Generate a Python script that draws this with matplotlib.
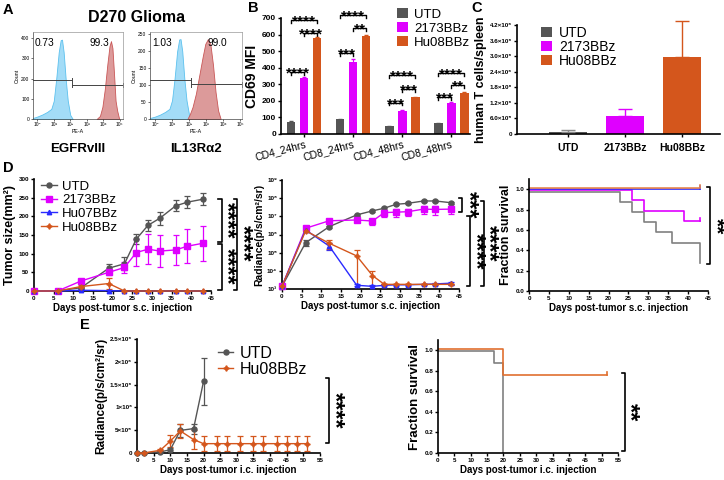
import numpy as np
import matplotlib
matplotlib.use('Agg')
import matplotlib.pyplot as plt

plt.rcParams['font.family'] = ['Liberation Sans', 'DejaVu Sans']

W, H = 724, 480

GREY = '#555555'
MAG = '#df00ff'
BLUE = '#2a2aff'
ORANGE = '#d4561c'

# ---------------- A: flow histograms (x in decades of PE-A) ----------------
flow_ticks = ['10⁰', '10¹', '10²', '10³', '10⁴', '10⁵']
egfr_ctrl_x = [-0.26, 0.0, 0.3, 0.6, 0.85, 1.0, 1.15, 1.3, 1.42, 1.5, 1.6, 1.72, 1.85, 2.0, 2.15]
egfr_ctrl_y = [5, 12, 22, 35, 50, 90, 200, 330, 390, 392, 330, 200, 90, 20, 0]
egfr_car_x = [3.6, 3.8, 3.95, 4.1, 4.25, 4.38, 4.47, 4.56, 4.65, 4.75, 4.85, 4.97]
egfr_car_y = [0, 15, 60, 150, 270, 360, 385, 350, 230, 90, 40, 0]
il13_ctrl_x = [-0.29, 0.0, 0.3, 0.6, 0.85, 1.0, 1.15, 1.3, 1.42, 1.5, 1.6, 1.72, 1.85, 2.0, 2.15]
il13_ctrl_y = [3, 7, 13, 21, 30, 55, 120, 200, 235, 236, 200, 120, 55, 12, 0]
il13_car_x = [1.9, 2.05, 2.2, 2.4, 2.6, 2.8, 2.95, 3.1, 3.25, 3.4, 3.55, 3.7, 3.85]
il13_car_y = [0, 15, 35, 75, 130, 185, 222, 236, 220, 160, 80, 25, 0]
egfr_pct = ['0.73', '99.3']
il13_pct = ['1.03', '99.0']

# ---------------- B: CD69 MFI ----------------
groups = ['CD4_24hrs', 'CD8_24hrs', 'CD4_48hrs', 'CD8_48hrs']
mfi_utd = [73, 89, 47, 64]
mfi_utd_err = [3, 3, 3, 3]
mfi_2173 = [338, 435, 141, 185]
mfi_2173_err = [5, 15, 5, 6]
mfi_hu08 = [578, 592, 221, 250]
mfi_hu08_err = [5, 8, 4, 5]
# (group, bar i, bar j, bracket height, stars)
mfi_sig = [(0, 0, 1, 376, '****'), (0, 1, 2, 609, '****'), (0, 0, 2, 686, '****'),
           (1, 0, 1, 488, '***'), (1, 1, 2, 640, '**'), (1, 0, 2, 718, '****'),
           (2, 0, 1, 190, '***'), (2, 1, 2, 270, '***'), (2, 0, 2, 356, '****'),
           (3, 0, 1, 225, '***'), (3, 1, 2, 295, '**'), (3, 0, 2, 370, '****')]

# ---------------- C: human T cells / spleen ----------------
c_groups = ['UTD', '2173BBz', 'Hu08BBz']
spleen = [9e4, 7.1e5, 2.95e6]
spleen_err = [6e4, 2.4e5, 1.4e6]
c_ticks = ['0', '6.0×10⁵', '1.2×10⁶', '1.8×10⁶', '2.4×10⁶', '3.0×10⁶', '3.6×10⁶', '4.2×10⁶']

# ---------------- D: s.c. model ----------------
days_sc = [0, 6, 12, 19, 23, 26, 29, 32, 36, 39, 43]
size_utd = [0, 0, 9, 61, 73, 139, 176, 195, 228, 238, 246]
size_utd_err = [0, 0, 3, 10, 18, 14, 14, 17, 15, 16, 16]
size_2173 = [0, 0, 27, 50, 63, 103, 112, 107, 110, 120, 128]
size_2173_err = [0, 0, 5, 8, 15, 37, 40, 42, 40, 45, 47]
size_hu07 = [0, 0, 2, 1, 0, 0, 0, 0, 0, 0, 0]
size_hu07_err = [0] * 11
size_hu08 = [0, 0, 12, 20, 0, 0, 0, 0, 0, 0, 0]
size_hu08_err = [0, 0, 4, 14, 0, 0, 0, 0, 0, 0, 0]

rad_utd = [1.4e3, 3.5e5, 2.7e6, 1.2e7, 2.0e7, 2.8e7, 4.6e7, 5.2e7, 7.0e7, 7.0e7, 5.6e7]
rad_utd_err = [0, 1.2e5, 3e5, 2e6, 3e6, 5e6, 6e6, 6e6, 8e6, 8e6, 6e6]
rad_2173 = [1.4e3, 2.2e6, 5.7e6, 6.3e6, 5.5e6, 1.6e7, 1.7e7, 1.8e7, 2.5e7, 2.4e7, 2.5e7]
rad_2173_err = [0, 5e5, 1.5e6, 1.5e6, 2e6, 7e6, 8e6, 8e6, 1.1e7, 1.2e7, 1.2e7]
rad_hu07 = [1.4e3, 1.8e6, 2.3e5, 1.6e3, 1.4e3, 1.6e3, 1.7e3, 1.7e3, 1.8e3, 1.9e3, 2.1e3]
rad_hu07_err = [0, 2e5, 9e4, 2e2, 2e2, 2e2, 2e2, 2e2, 2e2, 2e2, 4e2]
rad_hu08 = [1.4e3, 1.6e6, 3.3e5, 6.6e4, 5.5e3, 1.8e3, 1.8e3, 1.8e3, 1.8e3, 1.8e3, 1.8e3]
rad_hu08_err = [0, 2e5, 1.8e5, 7.5e4, 4e3, 2e2, 2e2, 2e2, 2e2, 2e2, 2e2]
rad_ticks = ['10³', '10⁴', '10⁵', '10⁶', '10⁷', '10⁸', '10⁹']

surv_utd_t = [0, 23, 26, 29, 32, 36, 43]
surv_utd = [0.975, 0.875, 0.775, 0.675, 0.575, 0.475, 0.275]
surv_2173_t = [0, 26, 29, 39, 43]
surv_2173 = [0.99, 0.89, 0.79, 0.69, 0.69]
surv_hu07_t = [0, 43]
surv_hu07 = [1.0, 1.0]
surv_hu08_t = [0, 43]
surv_hu08 = [1.015, 1.015]

# ---------------- E: i.c. model ----------------
days_ic_utd = [0, 2, 7, 10, 13, 17, 20]
ic_utd = [0, 0, 2.5e4, 7e4, 4.95e5, 5.35e5, 1.57e6]
ic_utd_err = [0, 0, 1e4, 4e4, 1.5e5, 1.1e5, 5.2e5]
days_ic_hu08 = [0, 2, 7, 10, 13, 17, 20, 24, 27, 31, 35, 38, 42, 45, 48, 51]
ic_hu08 = [0, 0, 6e4, 2.6e5, 4.85e5, 2.95e5, 2.05e5, 2.05e5, 2.05e5, 2.05e5,
           2.05e5, 2.05e5, 2.05e5, 2.05e5, 2.05e5, 2.05e5]
ic_hu08_err = [0, 0, 2e4, 1.3e5, 1.6e5, 2e5, 1.7e5, 1.7e5, 1.7e5, 1.7e5,
               1.7e5, 1.7e5, 1.7e5, 1.7e5, 1.7e5, 1.7e5]
ic_ticks = ['0', '5×10⁵', '1×10⁶', '1.5×10⁶', '2×10⁶', '2.5×10⁶']
surv_ic_utd_t = [0, 17, 20]
surv_ic_utd = [0.99, 0.875, 0.0]
surv_ic_hu08_t = [0, 20, 51.5]
surv_ic_hu08 = [1.01, 0.76, 0.76]


fig = plt.figure(figsize=(W / 100, H / 100), dpi=100)


def px_axes(x0, y0, x1, y1):
    return fig.add_axes([x0 / W, 1 - y1 / H, (x1 - x0) / W, (y1 - y0) / H])


def prism(ax, fs=4.5):
    for s in ['top', 'right']:
        ax.spines[s].set_visible(False)
    for s in ['left', 'bottom']:
        ax.spines[s].set_linewidth(1.2)
    ax.tick_params(width=1, length=2.5, labelsize=fs, pad=1)
    for lab in ax.get_xticklabels() + ax.get_yticklabels():
        lab.set_fontweight('bold')


def series(ax, x, y, err, color, marker, ms, label, clip=False):
    ax.errorbar(x, y, yerr=err, fmt='none', ecolor=color, elinewidth=0.9,
                capsize=2, capthick=0.9, zorder=2, clip_on=clip)
    ax.plot(x, y, color=color, marker=marker, ms=ms, lw=1, label=label, zorder=3, clip_on=False)


def vbracket(ax, x, y0, y1, arm, stars, sx, sy, fs=17):
    ax.plot([x - arm, x, x, x - arm], [y0, y0, y1, y1], color='k', lw=1.2, clip_on=False)
    ax.text(sx, sy, stars, rotation=270, ha='center', va='center', fontsize=fs,
            fontweight='bold', clip_on=False)


def panel_letter(x, y, s):
    fig.text(x / W, 1 - y / H, s, fontsize=10.5, fontweight='bold', va='center', ha='left')


# ---------------- A ----------------
def flow(box, cx, cy, px, py, xlim, ymax, yticks, gates, pct, pct_x):
    ax = px_axes(*box)
    ax.fill_between(cx, cy, color='#a3dcf7', ec='#5cc1ee', lw=0.6)
    ax.fill_between(px, py, color='#dc9a9a', ec='#c95757', lw=0.6)
    (g0, g1, g2), (h1, h2) = gates
    d = ymax * 0.025
    ax.plot([g0, g1], [h1, h1], color='#444444', lw=0.7)
    ax.plot([g1, g1], [h1 - d, h1 + d], color='#444444', lw=0.7)
    ax.plot([g1, g2], [h2, h2], color='#444444', lw=0.7)
    ax.plot([g1, g1], [h2 - d, h2 + d], color='#444444', lw=0.7)
    ax.plot([g2, g2], [h2 - d, h2 + d], color='#444444', lw=0.7, clip_on=False)
    ax.set_xlim(*xlim)
    ax.set_ylim(0, ymax)
    ax.set_xticks(range(6))
    ax.set_xticklabels(flow_ticks)
    ax.set_yticks(yticks)
    ax.tick_params(labelsize=3.5, length=1.5, width=0.4, pad=1)
    for s in ax.spines.values():
        s.set_linewidth(0.5)
        s.set_color('#999999')
    ax.spines['left'].set_color('#444444')
    ax.spines['bottom'].set_color('#444444')
    ax.set_ylabel('Count', fontsize=3.8, labelpad=1)
    ax.set_xlabel('PE-A', fontsize=3.8, labelpad=1)
    ax.text(pct_x[0], 0.87, pct[0], transform=ax.transAxes, fontsize=7.3, va='center')
    ax.text(pct_x[1], 0.87, pct[1], transform=ax.transAxes, fontsize=7.3, va='center')
    return ax


flow((33, 32, 123, 119), egfr_ctrl_x, egfr_ctrl_y, egfr_car_x, egfr_car_y,
     (-0.26, 5.2), 430, [0, 100, 200, 300, 400], ((-0.26, 2.1, 5.2), (193, 167)),
     egfr_pct, (0.02, 0.63))
flow((150, 32, 242, 119), il13_ctrl_x, il13_ctrl_y, il13_car_x, il13_car_y,
     (-0.29, 5.1), 257, [0, 50, 100, 150, 200, 250], ((-0.29, 2.1, 5.1), (115, 102)),
     il13_pct, (0.02, 0.63))
fig.text(137 / W, 1 - 17 / H, 'D270 Glioma', fontsize=11.5, fontweight='bold', ha='center', va='center')
fig.text(78 / W, 1 - 149 / H, 'EGFRvIII', fontsize=9.5, fontweight='bold', ha='center', va='center')
fig.text(196 / W, 1 - 149 / H, 'IL13Rα2', fontsize=9.5, fontweight='bold', ha='center', va='center')
panel_letter(3, 10, 'A')

# ---------------- B ----------------
axb = px_axes(281, 18, 470, 134)
gx = np.arange(len(groups))
off, bw = 0.265, 0.17
cols = [GREY, MAG, ORANGE]
for k, (vals, errs, lab) in enumerate([(mfi_utd, mfi_utd_err, 'UTD'), (mfi_2173, mfi_2173_err, '2173BBz'),
                                       (mfi_hu08, mfi_hu08_err, 'Hu08BBz')]):
    axb.bar(gx + (k - 1) * off, vals, bw, color=cols[k], label=lab, zorder=2)
    axb.errorbar(gx + (k - 1) * off, vals, yerr=errs, fmt='none', ecolor=cols[k],
                 elinewidth=0.8, capsize=1.5, zorder=3)
for g, i, j, h, st in mfi_sig:
    xi, xj = g + (i - 1) * off, g + (j - 1) * off
    axb.plot([xi, xi, xj, xj], [h - 18, h, h, h - 18], color='k', lw=1, clip_on=False)
    axb.annotate(st, (0.5 * (xi + xj), h), xytext=(0, -4), textcoords='offset points',
                 ha='center', va='baseline', fontsize=11, fontweight='bold', annotation_clip=False)
axb.set_xlim(-0.475, 3.38)
axb.set_ylim(0, 700)
axb.set_yticks(range(0, 701, 100))
axb.set_xticks(gx)
axb.set_xticklabels(groups)
prism(axb, fs=6)
for lab in axb.get_xticklabels():
    lab.set_fontweight('normal')
    lab.set_fontsize(7.5)
    lab.set_rotation(15)
    lab.set_ha('right')
    lab.set_rotation_mode('anchor')
axb.set_ylabel('CD69 MFI', fontsize=10, fontweight='bold', labelpad=2)
axb.legend(loc='upper left', bbox_to_anchor=(397 / W, 1 - 8 / H), bbox_transform=fig.transFigure,
           frameon=False, fontsize=9.5, handlelength=0.8, handleheight=0.8, handletextpad=0.5,
           labelspacing=0.1, borderpad=0, borderaxespad=0)
panel_letter(248, 8, 'B')

# ---------------- C ----------------
axc = px_axes(517, 25, 720, 134)
cx = np.arange(len(c_groups))
for k in range(3):
    axc.bar(cx[k], spleen[k], 0.67, color=cols[k], label=c_groups[k], zorder=2)
    axc.errorbar(cx[k], spleen[k], yerr=[[0], [spleen_err[k]]], fmt='none',
                 ecolor=cols[k] if k else '#888888', elinewidth=1, capsize=5, zorder=3, clip_on=False)
axc.set_xlim(-0.895, 2.67)
axc.set_ylim(0, 4.2e6)
axc.set_yticks(np.arange(8) * 6e5)
axc.set_yticklabels(c_ticks)
axc.set_xticks(cx)
axc.set_xticklabels(c_groups)
prism(axc, fs=4.5)
for lab in axc.get_xticklabels():
    lab.set_fontsize(7.5)
axc.tick_params(axis='x', pad=4)
axc.set_ylabel('human T cells/spleen', fontsize=9, fontweight='bold', labelpad=2)
axc.legend(loc='upper left', bbox_to_anchor=(541 / W, 1 - 26 / H), bbox_transform=fig.transFigure,
           frameon=False, fontsize=10, handlelength=0.8, handleheight=0.8, handletextpad=0.5,
           labelspacing=0.0, borderpad=0, borderaxespad=0)
panel_letter(471, 8, 'C')

# ---------------- D1 tumor size ----------------
ax1 = px_axes(34, 179, 211, 291)
series(ax1, days_sc, size_utd, size_utd_err, GREY, 'o', 3.6, 'UTD')
series(ax1, days_sc, size_2173, size_2173_err, MAG, 's', 4.2, '2173BBz')
series(ax1, days_sc, size_hu07, size_hu07_err, BLUE, '^', 3.2, 'Hu07BBz')
series(ax1, days_sc, size_hu08, size_hu08_err, ORANGE, (4, 1, 0), 4, 'Hu08BBz')
ax1.set_xlim(0, 45)
ax1.set_ylim(0, 300)
ax1.set_xticks(range(0, 46, 5))
ax1.set_yticks(range(0, 301, 50))
prism(ax1)
ax1.set_ylabel('Tumor size(mm²)', fontsize=9, fontweight='bold', labelpad=2)
ax1.set_xlabel('Days post-tumor s.c. injection', fontsize=7, fontweight='bold', labelpad=1.5)
ax1.legend(loc='upper left', bbox_to_anchor=(0.04, 0.985), frameon=False, fontsize=9.5,
           handlelength=1.2, handletextpad=0.4, labelspacing=0.1, borderpad=0, borderaxespad=0)
vbracket(ax1, 47.7, 246, 131, 0.8, '****', 49.0, 190)
vbracket(ax1, 47.7, 126, 3, 0.8, '****', 49.0, 66)
vbracket(ax1, 51.7, 246, 3, 0.8, '****', 52.9, 128)
panel_letter(3, 168, 'D')

# ---------------- D2 radiance ----------------
ax2 = px_axes(282, 180, 459, 289)
series(ax2, days_sc, rad_utd, rad_utd_err, GREY, 'o', 3.6, 'UTD', clip=True)
series(ax2, days_sc, rad_2173, rad_2173_err, MAG, 's', 4.2, '2173BBz', clip=True)
series(ax2, days_sc, rad_hu07, rad_hu07_err, BLUE, '^', 3.2, 'Hu07BBz', clip=True)
series(ax2, days_sc, rad_hu08, rad_hu08_err, ORANGE, (4, 1, 0), 4, 'Hu08BBz', clip=True)
ax2.set_yscale('log')
ax2.set_xlim(0, 45)
ax2.set_ylim(1e3, 1e9)
ax2.set_xticks(range(0, 46, 5))
ax2.set_yticks([10.0 ** p for p in range(3, 10)])
ax2.set_yticklabels(rad_ticks)
ax2.minorticks_off()
prism(ax2)
ax2.set_ylabel('Radiance(p/s/cm²/sr)', fontsize=7.5, fontweight='bold', labelpad=2)
ax2.set_xlabel('Days post-tumor s.c. injection', fontsize=7, fontweight='bold', labelpad=1.5)
vbracket(ax2, 45.7, 1e8, 1.8e7, 0.8, '***', 47.4, np.sqrt(1e8 * 1.8e7))
vbracket(ax2, 47.8, 1.05e7, 1.5e3, 0.8, '****', 49.1, np.sqrt(1.05e7 * 1.5e3))
vbracket(ax2, 51.4, 7e7, 1.5e3, 0.8, '****', 52.6, np.sqrt(7e7 * 1.5e3))

# ---------------- D3 survival ----------------
ax3 = px_axes(529, 179, 708, 291)
ax3.step(surv_utd_t, surv_utd, where='post', color='#808080', lw=1.2)
ax3.step(surv_2173_t, surv_2173, where='post', color=MAG, lw=1.2)
ax3.step(surv_hu07_t, surv_hu07, where='post', color=BLUE, lw=1.2)
ax3.step(surv_hu08_t, surv_hu08, where='post', color='#e8894f', lw=1.2)
for t, s, c in [(surv_2173_t, surv_2173, MAG), (surv_hu07_t, surv_hu07, BLUE),
                (surv_hu08_t, surv_hu08, '#e8894f')]:
    ax3.plot([t[-1], t[-1]], [s[-1], s[-1] + 0.03], color=c, lw=1.2, clip_on=False)
ax3.set_xlim(0, 45)
ax3.set_ylim(0, 1.1)
ax3.set_xticks(range(0, 46, 5))
ax3.set_yticks(np.arange(0, 1.01, 0.2))
ax3.set_yticklabels(['0.0', '0.2', '0.4', '0.6', '0.8', '1.0'])
prism(ax3)
ax3.set_ylabel('Fraction survival', fontsize=9, fontweight='bold', labelpad=2)
ax3.set_xlabel('Days post-tumor s.c. injection', fontsize=7, fontweight='bold', labelpad=1.5)
vbracket(ax3, 45.5, 1.025, 0.265, 0.8, '**', 46.9, 0.64, fs=15)

# ---------------- E1 radiance i.c. ----------------
ax4 = px_axes(137, 339, 320, 453)
series(ax4, days_ic_utd, ic_utd, ic_utd_err, GREY, 'o', 3.6, 'UTD')
series(ax4, days_ic_hu08, ic_hu08, ic_hu08_err, ORANGE, (4, 1, 0), 4, 'Hu08BBz')
ax4.set_xlim(0, 55)
ax4.set_ylim(0, 2.5e6)
ax4.set_xticks(range(0, 56, 5))
ax4.set_yticks(np.arange(6) * 5e5)
ax4.set_yticklabels(ic_ticks)
prism(ax4)
ax4.set_ylabel('Radiance(p/s/cm²/sr)', fontsize=8.5, fontweight='bold', labelpad=2)
ax4.set_xlabel('Days post-tumor i.c. injection', fontsize=7, fontweight='bold', labelpad=1.5)
ax4.legend(loc='upper left', bbox_to_anchor=(0.44, 0.94), frameon=False, fontsize=11.5,
           handlelength=1.0, handletextpad=0.4, labelspacing=0.05, borderpad=0, borderaxespad=0)
vbracket(ax4, 57.7, 1.645e6, 2.1e5, 1.0, '****', 59.2, 9.3e5)
panel_letter(80, 325, 'E')

# ---------------- E2 survival i.c. ----------------
ax5 = px_axes(438, 340, 618, 453)
ax5.step(surv_ic_utd_t, surv_ic_utd, where='post', color='#808080', lw=1.2)
ax5.step(surv_ic_hu08_t, surv_ic_hu08, where='post', color='#e07030', lw=1.2)
ax5.plot([surv_ic_hu08_t[-1]] * 2, [surv_ic_hu08[-1], surv_ic_hu08[-1] + 0.03], color='#e07030', lw=1.2)
ax5.set_xlim(0, 55)
ax5.set_ylim(0, 1.1)
ax5.set_xticks(range(0, 56, 5))
ax5.set_yticks(np.arange(0, 1.01, 0.2))
ax5.set_yticklabels(['0.0', '0.2', '0.4', '0.6', '0.8', '1.0'])
prism(ax5)
ax5.set_ylabel('Fraction survival', fontsize=9.5, fontweight='bold', labelpad=2)
ax5.set_xlabel('Days post-tumor i.c. injection', fontsize=7, fontweight='bold', labelpad=1.5)
vbracket(ax5, 57.1, 0.78, 0.016, 1.0, '**', 58.6, 0.40)

fig.savefig('out.png', dpi=100)
